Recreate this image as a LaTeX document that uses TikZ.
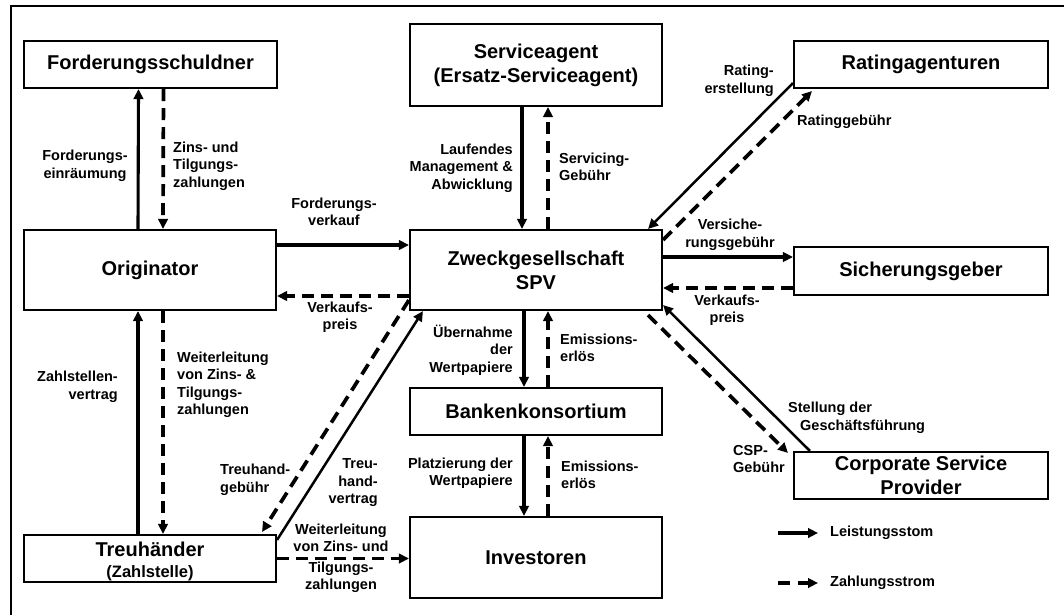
\documentclass[tikz,border=0pt]{standalone}
\usepackage{fontspec}
\setmainfont{Liberation Sans}
\usetikzlibrary{arrows.meta,calc}
\begin{document}
\begin{tikzpicture}[x=1pt,y=-1pt,
  box/.style={draw, line width=2.1pt, inner sep=0pt, align=center,
    font=\bfseries\fontsize{20}{24}\selectfont},
  lab/.style={inner sep=0pt, font=\bfseries\fontsize{14.5}{17.5}\selectfont},
  tip/.style={-{Triangle[length=10pt,width=9.5pt]}},
  flow/.style={tip, line width=3.1pt},
  thinflow/.style={tip, line width=2.5pt},
  pay/.style={tip, line width=3.7pt, dash pattern=on 12pt off 7pt},
]
\useasboundingbox (0,0) rectangle (1064,615);

% frame (top and left edge)
\draw[line width=2.2pt] (11,615) -- (11,6) -- (1064,6);

% parties
\node[box, minimum width=253pt, minimum height=47pt] (fs)   at (150.5,64.5) {Forderungsschuldner};
\node[box, minimum width=252pt, minimum height=82pt] (sa)   at (536,65)     {Serviceagent\\(Ersatz-Serviceagent)};
\node[box, minimum width=254pt, minimum height=47pt] (ra)   at (921,64.5)   {Ratingagenturen};
\node[box, minimum width=252pt, minimum height=80pt] (orig) at (150,270)    {Originator};
\node[box, minimum width=252pt, minimum height=80pt] (spv)  at (536,270)    {Zweckgesellschaft\\SPV};
\node[box, minimum width=254pt, minimum height=48pt] (sg)   at (921,271)    {Sicherungsgeber};
\node[box, minimum width=252pt, minimum height=47pt] (bk)   at (536,411.5)  {Bankenkonsortium};
\node[box, minimum width=252pt, minimum height=81pt] (inv)  at (536,557.5)  {Investoren};
\node[box, minimum width=252pt, minimum height=47pt] (th)   at (150,558.5)  {};
\node[inner sep=0pt, align=center, font=\bfseries\fontsize{20}{21}\selectfont] (thtext) at (150,561.5)
  {Treuhänder\\{\fontsize{16.5}{21}\selectfont (Zahlstelle)}};
\node[box, minimum width=254pt, minimum height=47pt] (csp)  at (921,475.5)  {Corporate Service\\Provider};

% flows: Forderungsschuldner / Originator / Treuhänder
\draw[flow] ([xshift=-12pt]orig.north) -- ([xshift=-12pt]fs.south);
\draw[pay]  ([xshift=13pt]fs.south) -- ([xshift=13pt]orig.north);
\draw[flow] ([xshift=-12pt]th.north) -- ([xshift=-12pt]orig.south);
\draw[pay]  ([xshift=13pt]orig.south) -- ([xshift=13pt]th.north);

% Originator / SPV
\draw[flow] ([yshift=25pt]orig.east) -- ([yshift=25pt]spv.west);
\draw[pay]  ([yshift=-26pt]spv.west) -- ([yshift=-26pt]orig.east);

% Serviceagent / SPV
\draw[flow] ([xshift=-14pt]sa.south) -- ([xshift=-14pt]spv.north);
\draw[pay]  ([xshift=12pt]spv.north) -- ([xshift=12pt]sa.south);

% Ratingagenturen / SPV
\draw[thinflow] ([yshift=6pt]ra.south west) -- ([xshift=-15pt]spv.north east);
\draw[pay] ([yshift=-11pt]spv.north east) -- ([xshift=19pt,yshift=-2pt]ra.south west);

% Sicherungsgeber / SPV
\draw[flow] ($(spv.east)+(0,-13)$) -- ($(spv.east -| sg.west)+(0,-13)$);
\draw[pay]  ($(sg.west)+(0,17)$) -- ($(sg.west -| spv.east)+(0,17)$);

% SPV / Bankenkonsortium / Investoren
\draw[flow] ([xshift=-12pt]spv.south) -- ([xshift=-12pt]bk.north);
\draw[pay]  ([xshift=12pt]bk.north) -- ([xshift=12pt]spv.south);
\draw[flow] ([xshift=-12pt]bk.south) -- ([xshift=-12pt]inv.north);
\draw[pay]  ([xshift=12pt]inv.north) -- ([xshift=12pt]bk.south);

% Treuhänder / Investoren and SPV
\draw[pay] (th.east) -- (th.east -| inv.west);
\draw[pay] ([yshift=11pt]spv.south west) -- ([xshift=-15pt,yshift=2pt]th.north east);
\draw[thinflow] ([yshift=-6pt]th.north east) -- ([xshift=14pt]spv.south west);

% Corporate Service Provider / SPV
\draw[thinflow] ([xshift=17pt]csp.north west) -- ([yshift=6pt]spv.south east);
\draw[pay] ([xshift=-15pt,yshift=-4pt]spv.south east) -- ([xshift=-5pt,yshift=-2pt]csp.north west);

% labels
\node[lab, align=center] (l1) at (85,166) {Forderungs-\\einräumung};
\node[lab, align=left, anchor=west] (l2) at (173,166) {Zins- und\\Tilgungs-\\zahlungen};
\node[lab, align=center] (l3) at (334,212) {Forderungs-\\verkauf};
\node[lab, align=center] (l4) at (340,317) {Verkaufs-\\preis};
\node[lab, align=right, anchor=east] (l5) at (118,387) {Zahlstellen-\\vertrag};
\node[lab, align=left, anchor=west] (l6) at (177,385) {Weiterleitung\\von Zins- \&\\Tilgungs-\\zahlungen};
\node[lab, align=left, anchor=west] (l7) at (220,480) {Treuhand-\\gebühr};
\node[lab, align=right, anchor=east] (l8) at (378,483) {Treu-\\hand-\\vertrag};
\node[lab, align=center] (l9) at (341,558.5) {Weiterleitung\\von Zins- und\\[3pt]Tilgungs-\\zahlungen};
\node[lab, align=right, anchor=east] (l10) at (513,168) {Laufendes\\Management \&\\Abwicklung};
\node[lab, align=left, anchor=west] (l11) at (559,167) {Servicing-\\Gebühr};
\node[lab, align=right, anchor=east] (l12) at (774,81) {Rating-\\erstellung};
\node[lab, anchor=west] (l13) at (797,122) {Ratinggebühr};
\node[lab, align=center] (l14) at (730,235) {Versiche-\\rungsgebühr};
\node[lab, align=center] (l15) at (727,310) {Verkaufs-\\preis};
\node[lab, align=right, anchor=east] (l16) at (513,350) {Übernahme\\der\\Wertpapiere};
\node[lab, align=left, anchor=west] (l17) at (560,348) {Emissions-\\erlös};
\node[lab, align=right, anchor=east] (l18) at (513,473) {Platzierung der\\Wertpapiere};
\node[lab, align=left, anchor=west] (l19) at (561,475) {Emissions-\\erlös};
\node[lab, align=left, anchor=west] (l20) at (788,418) {Stellung der\\\hspace*{12pt}Geschäftsführung};
\node[lab, align=left, anchor=west] (l21) at (733,459) {CSP-\\Gebühr};

% legend
\coordinate (lgA) at (778,533);
\coordinate (lgB) at (818,533);
\coordinate (lgC) at (778,583);
\coordinate (lgD) at (818,583);
\draw[flow] (lgA) -- (lgB);
\draw[pay, dash pattern=on 12pt off 8pt] (lgC) -- (lgD);
\node[lab, anchor=west] (lgT1) at (830,533) {Leistungsstom};
\node[lab, anchor=west] (lgT2) at (830,583) {Zahlungsstrom};
\end{tikzpicture}
\end{document}
